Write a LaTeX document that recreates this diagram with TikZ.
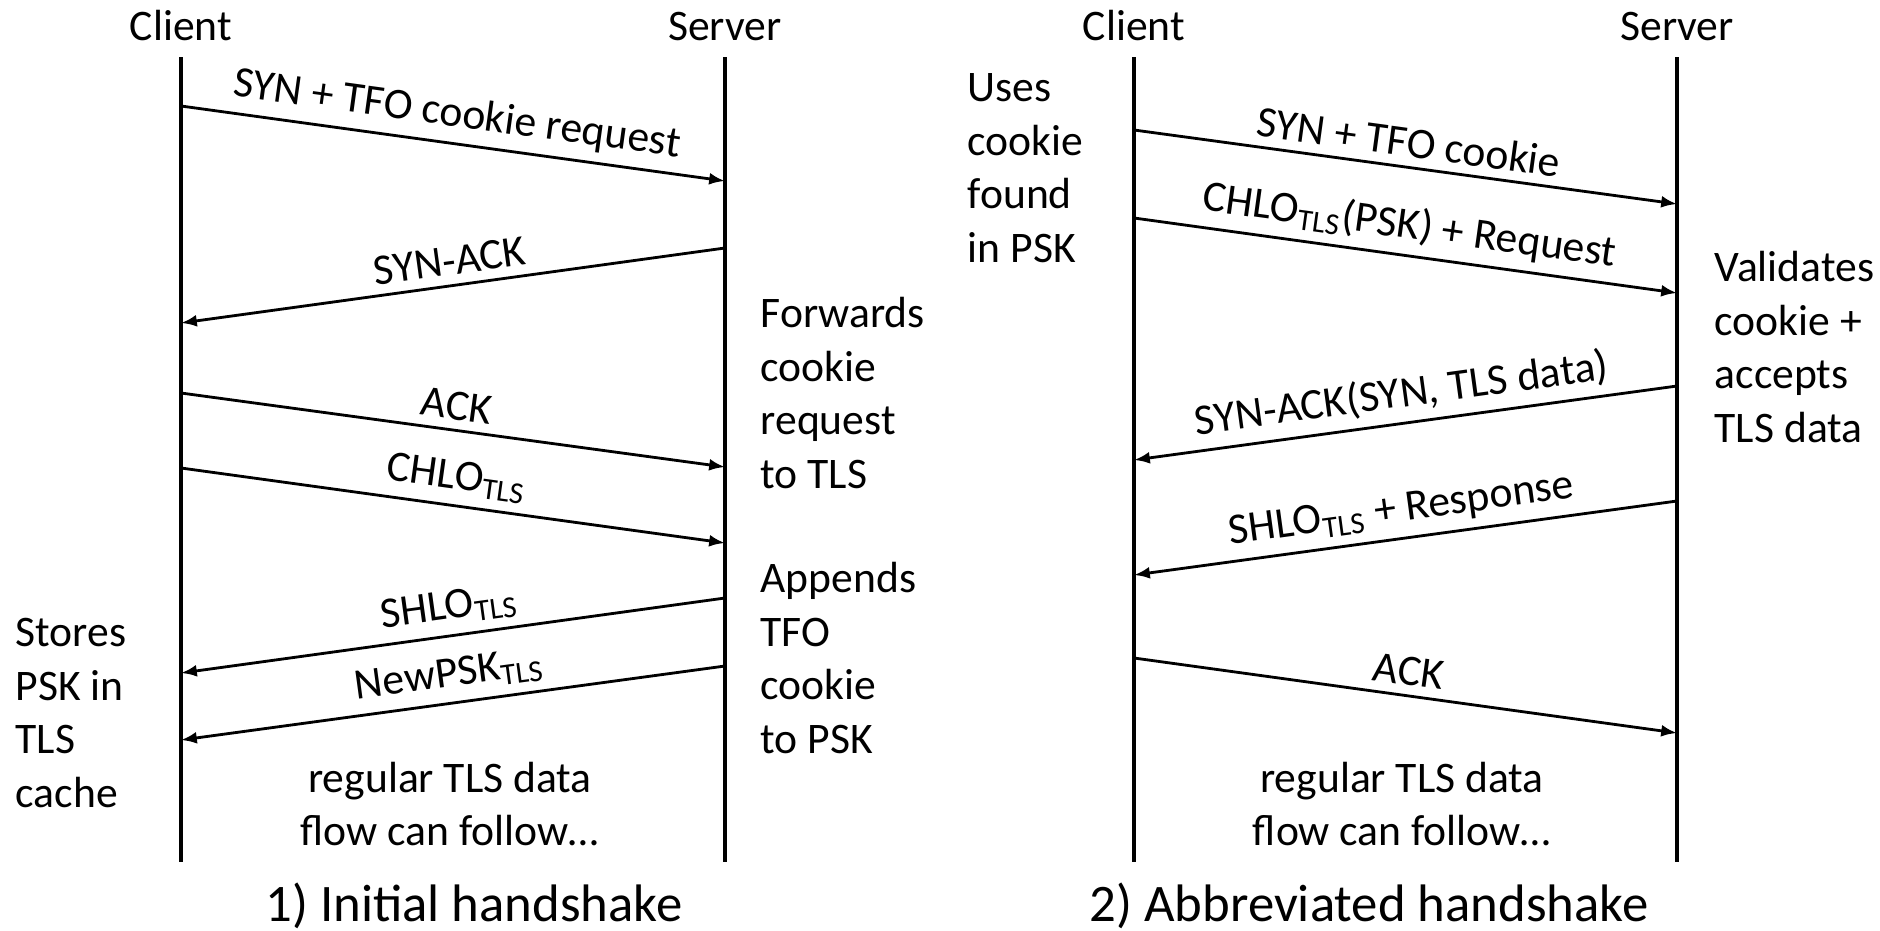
\documentclass[tikz,border=0pt]{standalone}
\usepackage{fontspec}
\setmainfont{Carlito}
\usetikzlibrary{arrows.meta}

\begin{document}
\begin{tikzpicture}[
  x=0.01cm, y=-0.01cm,
  font=\fontsize{12.4}{15.2}\selectfont,
  lifeline/.style={line width=1.1pt},
  msg/.style={line width=0.8pt, -{Latex[length=4.5pt,width=3.4pt]}},
  msglabel/.style={midway, sloped, above=1.5pt, inner sep=1pt},
  note/.style={anchor=west, align=left, inner sep=0pt},
  flow/.style={align=center, inner sep=0pt},
  caption/.style={anchor=base, font=\fontsize{15}{18}\selectfont}
]
%general params
\def\cliL{181} %client x, initial
\def\srvL{725} %server x, initial
\def\cliR{1134} %client x, abbreviated
\def\srvR{1677} %server x, abbreviated
\def\ltop{57}
\def\lbot{862}
\useasboundingbox (0,0) rectangle (1880,930);

%headers
\node[anchor=base] (cliLhead) at (\cliL,40) {Client};
\node[anchor=base] (srvLhead) at (\srvL,40) {Server};
\node[anchor=base] (cliRhead) at (\cliR,40) {Client};
\node[anchor=base] (srvRhead) at (\srvR,40) {Server};

%lifelines
\coordinate (cliLtop) at (\cliL,\ltop);
\coordinate (cliLbot) at (\cliL,\lbot);
\coordinate (srvLtop) at (\srvL,\ltop);
\coordinate (srvLbot) at (\srvL,\lbot);
\coordinate (cliRtop) at (\cliR,\ltop);
\coordinate (cliRbot) at (\cliR,\lbot);
\coordinate (srvRtop) at (\srvR,\ltop);
\coordinate (srvRbot) at (\srvR,\lbot);
\draw[lifeline] (cliLtop) -- (cliLbot);
\draw[lifeline] (srvLtop) -- (srvLbot);
\draw[lifeline] (cliRtop) -- (cliRbot);
\draw[lifeline] (srvRtop) -- (srvRbot);

%1) initial handshake
\coordinate (synA)   at (\cliL,106); \coordinate (synB)   at (\srvL,181);
\coordinate (sackA)  at (\srvL,248); \coordinate (sackB)  at (\cliL,323);
\coordinate (ackA)   at (\cliL,393); \coordinate (ackB)   at (\srvL,467);
\coordinate (chloA)  at (\cliL,468); \coordinate (chloB)  at (\srvL,543);
\coordinate (shloA)  at (\srvL,598); \coordinate (shloB)  at (\cliL,673);
\coordinate (npskA)  at (\srvL,666); \coordinate (npskB)  at (\cliL,740);

\draw[msg] (synA) -- (synB) node[msglabel] {SYN + TFO cookie request};
\draw[msg] (sackA) -- (sackB) node[msglabel] {SYN-ACK};
\draw[msg] (ackA) -- (ackB) node[msglabel] {ACK};
\draw[msg] (chloA) -- (chloB) node[msglabel] {CHLO\textsubscript{TLS}};
\draw[msg] (shloA) -- (shloB) node[msglabel] {SHLO\textsubscript{TLS}};
\draw[msg] (npskA) -- (npskB) node[msglabel] {NewPSK\textsubscript{TLS}};

\node[note] (fwd) at (760,393) {Forwards\\cookie\\request\\to TLS};
\node[note] (app) at (760,658) {Appends\\TFO\\cookie\\to PSK};
\node[note] (sto) at (15,713) {Stores\\PSK in\\TLS\\cache};
\node[flow] (flowL) at (450,804) {regular TLS data\\flow can follow…};
\node[caption] (capL) at (474,921) {1) Initial handshake};

%2) abbreviated handshake
\coordinate (rsynA)  at (\cliR,130); \coordinate (rsynB)  at (\srvR,204);
\coordinate (rchloA) at (\cliR,218); \coordinate (rchloB) at (\srvR,293);
\coordinate (rsackA) at (\srvR,386); \coordinate (rsackB) at (\cliR,460);
\coordinate (rshloA) at (\srvR,501); \coordinate (rshloB) at (\cliR,575);
\coordinate (rackA)  at (\cliR,658); \coordinate (rackB)  at (\srvR,733);

\draw[msg] (rsynA) -- (rsynB) node[msglabel] {SYN + TFO cookie};
\draw[msg] (rchloA) -- (rchloB) node[msglabel] {CHLO\textsubscript{TLS}(PSK) + Request};
\draw[msg] (rsackA) -- (rsackB) node[msglabel] {SYN-ACK(SYN, TLS data)};
\draw[msg] (rshloA) -- (rshloB) node[msglabel] {SHLO\textsubscript{TLS} + Response};
\draw[msg] (rackA) -- (rackB) node[msglabel] {ACK};

\node[note] (use) at (967,168) {Uses\\cookie\\found\\in PSK};
\node[note] (val) at (1714,347) {Validates\\cookie +\\accepts\\TLS data};
\node[flow] (flowR) at (1402,804) {regular TLS data\\flow can follow…};
\node[caption] (capR) at (1369,921) {2) Abbreviated handshake};

\end{tikzpicture}
\end{document}
